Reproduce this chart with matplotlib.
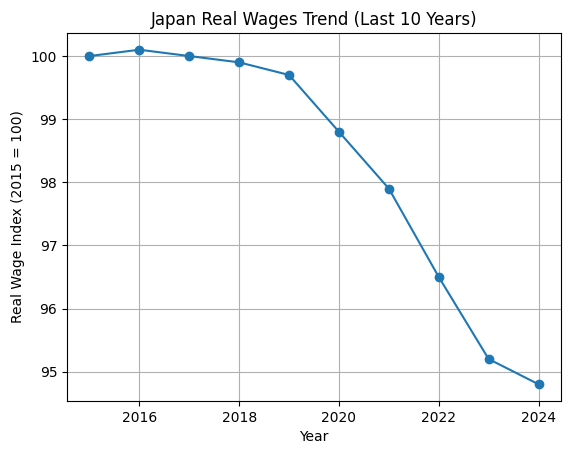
import matplotlib
matplotlib.use("Agg")
import matplotlib.pyplot as plt

years = [2015, 2016, 2017, 2018, 2019, 2020, 2021, 2022, 2023, 2024]
wage_index = [100.0, 100.1, 100.0, 99.9, 99.7, 98.8, 97.9, 96.5, 95.2, 94.8]

fig = plt.figure(figsize=(5.71, 4.55), dpi=100)
ax = fig.add_axes([67/571, 54/455, (561-67)/571, (401-33)/455])
ax.plot(years, wage_index, marker='o')
ax.set_title("Japan Real Wages Trend (Last 10 Years)")
ax.set_xlabel("Year")
ax.set_ylabel("Real Wage Index (2015 = 100)")
ax.grid(True)
fig.savefig("out.png", dpi=100)
